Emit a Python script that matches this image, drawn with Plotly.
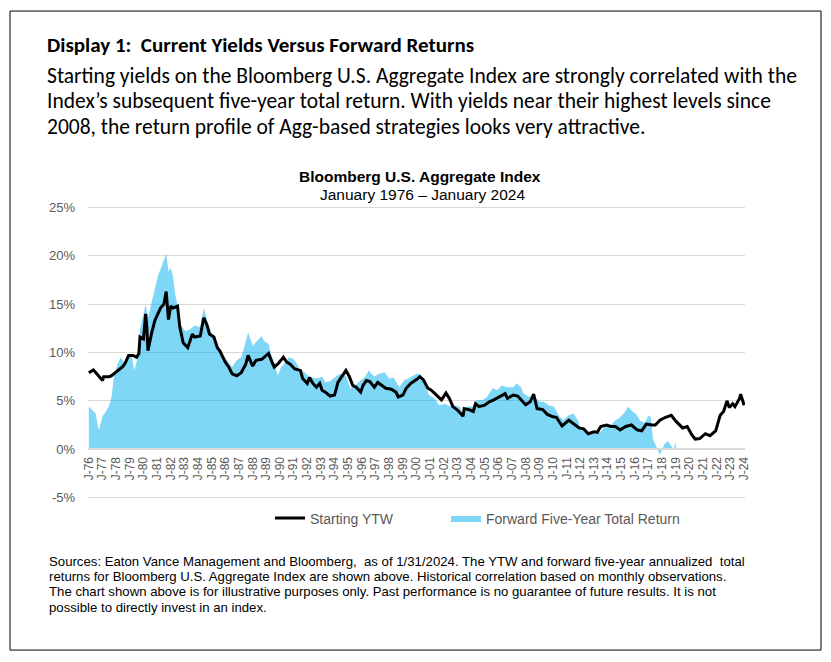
import plotly.graph_objects as go

# ---------------- data ----------------
ytw_dates = [
    "1976-01", "1976-05", "1976-08", "1977-01", "1977-02", "1977-07", "1977-09",
    "1978-02", "1978-07", "1978-09", "1978-12", "1979-04", "1979-07", "1979-09", "1979-10",
    "1980-01", "1980-03", "1980-04", "1980-05", "1980-08", "1980-11",
    "1981-04", "1981-07", "1981-09", "1981-11", "1982-01", "1982-03", "1982-07", "1982-09", "1982-12",
    "1983-04", "1983-08", "1983-10", "1984-03", "1984-06", "1984-09", "1984-11",
    "1985-03", "1985-06", "1985-08", "1986-01", "1986-04", "1986-07", "1986-11",
    "1987-03", "1987-07", "1987-09", "1988-01", "1988-04", "1988-09", "1988-11",
    "1989-03", "1989-06", "1989-08", "1989-11", "1990-04", "1990-07", "1990-10",
    "1991-02", "1991-07", "1991-09", "1992-01", "1992-03", "1992-06", "1992-09", "1992-12",
    "1993-02", "1993-05", "1993-09", "1994-01", "1994-04", "1994-08", "1994-11",
    "1995-02", "1995-05", "1995-08", "1995-12", "1996-02", "1996-05", "1996-08", "1996-12",
    "1997-03", "1997-08", "1997-10", "1998-03", "1998-07", "1998-09",
    "1999-01", "1999-04", "1999-08", "2000-01", "2000-04", "2000-07", "2000-11",
    "2001-02", "2001-05", "2001-08", "2001-11", "2002-03", "2002-06", "2002-09",
    "2003-01", "2003-06", "2003-07", "2003-12", "2004-03", "2004-05", "2004-08",
    "2005-01", "2005-05", "2005-09", "2006-02", "2006-07", "2006-09",
    "2007-02", "2007-06", "2007-09", "2008-01", "2008-05", "2008-08", "2008-11",
    "2009-04", "2009-08", "2010-01", "2010-04", "2010-09", "2011-03", "2011-08", "2011-12",
    "2012-04", "2012-08", "2013-01", "2013-04", "2013-07", "2013-12",
    "2014-04", "2014-08", "2014-12", "2015-05", "2015-10", "2016-03", "2016-07", "2016-11",
    "2017-04", "2017-07", "2017-11", "2018-04", "2018-09", "2019-01", "2019-07", "2019-11",
    "2020-03", "2020-06", "2020-10", "2021-03", "2021-07", "2021-12",
    "2022-04", "2022-07", "2022-10", "2022-12", "2023-03", "2023-05", "2023-09", "2023-10", "2024-01",
]
ytw_values = [
    7.9, 8.2, 7.8, 7.1, 7.5, 7.5, 7.6,
    8.1, 8.55, 8.9, 9.7, 9.7, 9.5, 9.9, 11.6,
    11.4, 14.0, 12.6, 10.2, 11.9, 13.3,
    14.6, 15.0, 16.3, 13.4, 14.8, 14.6, 14.8, 12.6, 11.0,
    10.5, 11.9, 11.6, 11.7, 13.6, 12.8, 11.9,
    11.6, 10.5, 10.2, 9.0, 8.5, 7.8, 7.6,
    7.9, 8.8, 9.7, 8.6, 9.2, 9.3, 9.5,
    9.9, 9.0, 8.5, 8.8, 9.5, 9.0, 8.8,
    8.3, 8.15, 7.3, 6.8, 7.4, 6.8, 6.4, 6.8,
    6.1, 5.9, 5.5, 5.6, 6.9, 7.6, 8.15,
    7.5, 6.6, 6.4, 5.9, 6.6, 7.1, 7.0, 6.4,
    6.9, 6.4, 6.3, 6.2, 5.9, 5.4,
    5.6, 6.3, 6.8, 7.2, 7.5, 7.2, 6.3,
    6.1, 5.8, 5.4, 5.1, 5.8, 5.25, 4.4,
    4.05, 3.4, 4.2, 4.05, 3.9, 4.7, 4.4,
    4.55, 4.9, 5.1, 5.4, 5.75, 5.25,
    5.6, 5.5, 5.1, 4.6, 4.9, 5.7, 4.2,
    4.1, 3.6, 3.35, 3.3, 2.4, 3.0, 2.6, 2.2,
    2.1, 1.6, 1.8, 1.75, 2.35, 2.5,
    2.35, 2.35, 2.0, 2.35, 2.5, 2.0, 1.9, 2.6,
    2.5, 2.5, 3.0, 3.3, 3.5, 2.9, 2.2, 2.35,
    1.5, 1.05, 1.1, 1.6, 1.4, 1.9,
    3.5, 3.9, 5.0, 4.3, 4.7, 4.4, 5.25, 5.7, 4.55,
]

fwd_dates = [
    "1976-01", "1976-04", "1976-07", "1976-09", "1976-10", "1977-01", "1977-04", "1977-07",
    "1977-09", "1977-11", "1978-02", "1978-05", "1978-08", "1978-12", "1979-03", "1979-05",
    "1979-08", "1979-10", "1980-01", "1980-03", "1980-05", "1980-08", "1980-11",
    "1981-02", "1981-05", "1981-09", "1981-11", "1982-01", "1982-03", "1982-05", "1982-08",
    "1982-10", "1983-02", "1983-06", "1983-10", "1984-03", "1984-06", "1984-10",
    "1985-02", "1985-06", "1985-11", "1986-04", "1986-07", "1986-11",
    "1987-03", "1987-06", "1987-09", "1988-01", "1988-05", "1988-09", "1988-11",
    "1989-03", "1989-05", "1989-08", "1989-11", "1990-02", "1990-06", "1990-09",
    "1991-01", "1991-04", "1991-06", "1991-10", "1992-03", "1992-09",
    "1993-02", "1993-05", "1993-10", "1994-03", "1994-06", "1994-11",
    "1995-03", "1995-07", "1995-12", "1996-04", "1996-07", "1996-12",
    "1997-04", "1997-09", "1998-01", "1998-05", "1998-10", "1999-02", "1999-06",
    "2000-01", "2000-04", "2000-08", "2000-12", "2001-05", "2001-09",
    "2002-02", "2002-06", "2002-10", "2003-03", "2003-05", "2003-10",
    "2004-02", "2004-06", "2004-11", "2005-03", "2005-08", "2005-12",
    "2006-04", "2006-09", "2007-02", "2007-05", "2007-09", "2007-11",
    "2008-04", "2008-08", "2009-01", "2009-05", "2009-09",
    "2010-02", "2010-06", "2010-10", "2011-03", "2011-07", "2011-11",
    "2012-01", "2012-04", "2012-08", "2013-02", "2013-06", "2013-10",
    "2014-03", "2014-07", "2014-12", "2015-04", "2015-07", "2015-10",
    "2016-02", "2016-06", "2016-10", "2017-01", "2017-03", "2017-05", "2017-07",
    "2017-09", "2017-11", "2018-01", "2018-03", "2018-06", "2018-08", "2018-11", "2019-01",
]
fwd_values = [
    4.4, 4.05, 3.7, 2.3, 2.0, 3.4, 3.9, 4.55,
    5.4, 7.5, 8.7, 9.5, 9.0, 9.7, 9.5, 8.15,
    9.5, 12.4, 14.0, 15.0, 13.6, 15.1, 16.3,
    18.05, 18.9, 20.2, 18.4, 18.7, 17.9, 16.0, 14.3,
    12.8, 12.2, 12.4, 12.8, 12.6, 14.6, 12.9,
    11.6, 10.5, 9.7, 9.0, 8.5, 9.2,
    9.5, 10.7, 12.1, 10.7, 11.2, 11.7, 11.2,
    10.9, 9.9, 9.0, 7.6, 8.5, 9.0, 9.5,
    9.3, 8.8, 8.3, 8.0, 7.5, 7.3,
    7.5, 6.9, 7.1, 7.6, 7.8, 7.6,
    6.3, 6.6, 7.1, 7.5, 8.15, 7.5,
    7.8, 7.95, 7.3, 7.4, 6.4, 7.1, 7.3,
    7.8, 7.8, 6.8, 5.6, 5.25, 4.55,
    4.7, 4.45, 4.55, 4.4, 3.9, 4.45,
    4.4, 5.1, 5.1, 5.4, 6.3, 6.1,
    6.6, 6.4, 6.4, 6.8, 6.4, 5.75,
    5.4, 5.6, 4.9, 4.9, 4.55,
    4.4, 3.5, 3.0, 3.5, 3.7, 3.0,
    2.25, 1.9, 1.7, 1.6, 1.7, 2.25,
    2.4, 2.9, 3.3, 3.8, 4.4, 4.0,
    3.65, 2.9, 2.75, 3.5, 3.3, 1.0, 0.5,
    0.0, -0.6, 0.0, 0.5, 0.85, 0.5, 0.0, 0.8,
]

tick_years = list(range(1976, 2025))
x_tick_vals = [f"{y}-01-01" for y in tick_years]
x_tick_text = [f"J-{y % 100:02d}" for y in tick_years]
y_tick_vals = [-5, 0, 5, 10, 15, 20, 25]
y_tick_text = ["-5%", "0%", "5%", "10%", "15%", "20%", "25%"]

series_names = ["Starting YTW", "Forward Five-Year Total Return"]

title_text = "Display 1:  Current Yields Versus Forward Returns"
para_lines = [
    "Starting yields on the Bloomberg U.S. Aggregate Index are strongly correlated with the",
    "Index\u2019s subsequent five-year total return. With yields near their highest levels since",
    "2008, the return profile of Agg-based strategies looks very attractive.",
]
chart_title = "Bloomberg U.S. Aggregate Index"
chart_subtitle = "January 1976 \u2013 January 2024"
source_lines = [
    "Sources: Eaton Vance Management and Bloomberg,  as of 1/31/2024. The YTW and forward five-year annualized  total",
    "returns for Bloomberg U.S. Aggregate Index are shown above. Historical correlation based on monthly observations.",
    "The chart shown above is for illustrative purposes only. Past performance is no guarantee of future results. It is not",
    "possible to directly invest in an index.",
]

# ---------------- layout constants ----------------
W, H = 831, 662
Y_MIN, Y_MAX, Y_PAD = -5, 25, 0.15
PX_PER_UNIT = (498 - 207) / (Y_MAX - Y_MIN)
L, R = 88, 745
T = 207 - Y_PAD * PX_PER_UNIT
B = 498 + Y_PAD * PX_PER_UNIT
PW, PH = R - L, B - T


def px(x):
    return (x - L) / PW


def py(y):
    return (B - y) / PH


ARIAL = "Arial, Liberation Sans, sans-serif"
CALIBRI = "Calibri, Carlito, Lato, sans-serif"
GRAY = "#595959"
AREA = "rgba(0,176,240,0.5)"

fig = go.Figure()

fig.add_trace(go.Scatter(
    x=fwd_dates, y=fwd_values, name=series_names[1],
    mode="lines", line=dict(width=0, color=AREA),
    fill="tozeroy", fillcolor=AREA, legend="legend2",
))
fig.add_trace(go.Scatter(
    x=ytw_dates, y=ytw_values, name=series_names[0],
    mode="lines", line=dict(width=3, color="black"), legend="legend",
))

annotations = [
    dict(text="<b>" + title_text + "</b>", x=px(45), y=py(44), xanchor="left", yanchor="middle",
         font=dict(family=CALIBRI, size=21, color="black")),
    dict(text="<b>" + chart_title + "</b>", x=px(420), y=py(176), xanchor="center", yanchor="middle",
         font=dict(family=ARIAL, size=15.5, color="black")),
    dict(text=chart_subtitle, x=px(422), y=py(194), xanchor="center", yanchor="middle",
         font=dict(family=ARIAL, size=15.5, color="black")),
]
for line, ypix in zip(para_lines, [75, 100.5, 126]):
    annotations.append(dict(text=line, x=px(45), y=py(ypix), xanchor="left", yanchor="middle",
                            font=dict(family=CALIBRI, size=21.5, color="black")))
for line, ypix in zip(source_lines, [562, 577.3, 592.6, 608]):
    annotations.append(dict(text=line, x=px(47), y=py(ypix), xanchor="left", yanchor="middle",
                            font=dict(family=ARIAL, size=13.2, color="black")))
for a in annotations:
    a.update(xref="paper", yref="paper", showarrow=False)

legend_common = dict(orientation="h", yanchor="middle", xanchor="left",
                     font=dict(family=ARIAL, size=14, color=GRAY), bgcolor="rgba(0,0,0,0)")

fig.update_layout(
    width=W, height=H,
    margin=dict(l=L, r=W - R, t=T, b=H - B, pad=0),
    paper_bgcolor="white", plot_bgcolor="white",
    showlegend=True,
    legend=dict(x=px(270), y=py(519), **legend_common),
    legend2=dict(x=px(446), y=py(519), **legend_common),
    annotations=annotations,
    shapes=[dict(type="rect", xref="paper", yref="paper",
                 x0=px(10), x1=px(821), y0=py(651), y1=py(10),
                 line=dict(color="black", width=1), fillcolor="rgba(0,0,0,0)", layer="below")],
    xaxis=dict(
        type="date", range=["1975-12-10", "2024-01-25"],
        tickvals=x_tick_vals, ticktext=x_tick_text, tickangle=-90,
        tickfont=dict(family=ARIAL, size=12, color=GRAY),
        showgrid=False, zeroline=False, anchor="free",
        position=(0 - (Y_MIN - Y_PAD)) / (Y_MAX - Y_MIN + 2 * Y_PAD),
        showline=True, linecolor="#D9D9D9", linewidth=2, ticks="", ticklabelstandoff=2,
    ),
    yaxis=dict(
        range=[Y_MIN - Y_PAD, Y_MAX + Y_PAD], tickvals=y_tick_vals, ticktext=y_tick_text,
        tickfont=dict(family=ARIAL, size=13, color=GRAY),
        showgrid=True, gridcolor="#D9D9D9", gridwidth=1, zeroline=False,
        showline=False, ticks="", ticklabelstandoff=12,
    ),
)

fig.write_html(
    "out.html",
    config={"displayModeBar": False},
    post_script="document.body.style.margin='0';document.body.style.overflow='hidden';",
)
